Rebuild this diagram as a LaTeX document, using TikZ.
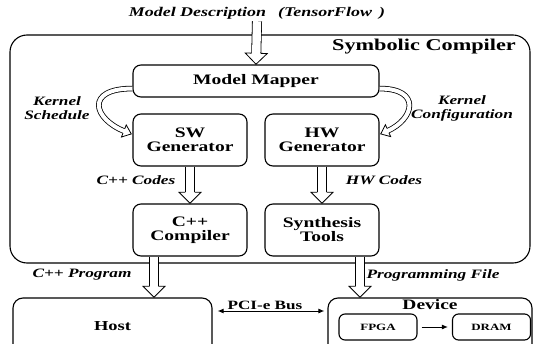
\documentclass[tikz,border=0pt]{standalone}
\usepackage{fontspec}
\setmainfont[FakeStretch=1.35]{Liberation Serif}
\usetikzlibrary{arrows.meta,decorations.markings,calc}
\newcommand\nodef{\bfseries\fontsize{14.5}{14}\selectfont}
\newcommand\labf{\bfseries\itshape\fontsize{12.8}{14}\selectfont}
\newcommand\fatarr[3]{\draw[#1] #3; \path[#2] #3;}
\tikzset{
  box/.style={draw, line width=1.1pt, rounded corners=8pt, inner sep=0pt, align=center, font=\nodef},
  gen/.style={minimum width=114pt, minimum height=52pt},
  smallbox/.style={draw, line width=1.1pt, rounded corners=6pt, inner sep=0pt, minimum width=78pt, minimum height=26pt, font=\bfseries\fontsize{9.6}{10}\selectfont},
  lab/.style={font=\labf, align=center, inner sep=2pt},
  fatshaft/.style={line width=0.8pt, double=white, double distance=8.4pt, shorten >=10.5pt},
  fathead/.style={postaction={decorate}, decoration={markings, mark=at position -0.2pt with {%
    \fill[white] (-11pt,11pt)--(0pt,0pt)--(-11pt,-11pt)--cycle;
    \draw[line width=0.8pt, line join=miter] (-11pt,4.6pt)--(-11pt,11pt)--(0pt,0pt)--(-11pt,-11pt)--(-11pt,-4.6pt);}}},
  bandshaft/.style={line width=0.8pt, double=white, double distance=4pt, shorten >=7.5pt},
  bandhead/.style={postaction={decorate}, decoration={markings, mark=at position -0.2pt with {%
    \fill[white] (-8pt,6.5pt)--(0pt,0pt)--(-8pt,-6.5pt)--cycle;
    \draw[line width=0.8pt, line join=miter] (-8pt,2.4pt)--(-8pt,6.5pt)--(0pt,0pt)--(-8pt,-6.5pt)--(-8pt,-2.4pt);}}},
  tip/.style={line width=1pt}
}
\begin{document}
\begin{tikzpicture}[x=1pt,y=-1pt]
\clip (0,0) rectangle (534,344);
\fill[white] (0,0) rectangle (534,344);
% outer compiler frame
\node[draw, line width=1.1pt, rounded corners=17pt, minimum width=520pt, minimum height=228pt] (symb) at (270,149) {};
\node[font=\bfseries\fontsize{16.5}{17}\selectfont, inner sep=0pt] (symbl) at (424,47) {Symbolic Compiler};
\node[lab, font=\bfseries\itshape\fontsize{13.3}{14}\selectfont] (title) at (257,13) {Model Description\hspace{12pt}(TensorFlow\hspace{7pt})};
% boxes
\node[box, minimum width=246pt, minimum height=32pt] (mapper) at (256,81) {Model Mapper};
\node[box, gen] (sw) at (190,140) {SW\\Generator};
\node[box, gen] (hw) at (322,140) {HW\\Generator};
\node[box, gen] (cpp) at (190,230) {C++\\Compiler};
\node[box, gen] (synth) at (322,230) {Synthesis\\Tools};
\node[box, rounded corners=10pt, minimum width=199pt, minimum height=56pt, font=\bfseries\fontsize{13.7}{14}\selectfont] (host) at (112.5,326) {Host};
\node[box, rounded corners=10pt, minimum width=204pt, minimum height=56pt] (device) at (430,326) {};
\node[font=\bfseries\fontsize{14.4}{15}\selectfont, inner sep=0pt] (devl) at (430,305) {Device};
\node[smallbox] (fpga) at (378,327) {FPGA};
\node[smallbox] (dram) at (491.5,327) {DRAM};
% labels
\node[lab] (ks) at (57,108) {Kernel\\Schedule};
\node[lab] (kc) at (462,108) {Kernel\\Configuration};
\node[lab] (cc) at (136,180) {C++ Codes};
\node[lab] (hc) at (384,180) {HW Codes};
\node[lab] (cp) at (82,275) {C++ Program};
\node[lab] (pf) at (433,275) {Programming File};
\node[font=\bfseries\fontsize{12.7}{13}\selectfont, inner sep=0pt] (pci) at (265,305) {PCI-e Bus};
% straight hollow arrows
\fatarr{fatshaft}{fathead}{(title.south) -- (mapper.north)}
\fatarr{fatshaft}{fathead}{(sw.south) -- (cpp.north)}
\fatarr{fatshaft}{fathead}{(hw.south) -- (synth.north)}
\coordinate (a1) at ([xshift=-36pt]cpp.south);
\coordinate (a2) at ([xshift=38pt]synth.south);
\fatarr{fatshaft}{fathead}{(a1) -- (a1 |- host.north)}
\fatarr{fatshaft}{fathead}{(a2) -- (a2 |- device.north)}
% curved hollow arrows
\coordinate (ls) at ([yshift=9pt]mapper.south west);
\coordinate (le) at ([shift={(-1pt,6pt)}]sw.west);
\coordinate (rs) at ([yshift=9pt]mapper.south east);
\coordinate (re) at ([shift={(1pt,6pt)}]hw.east);
\fatarr{bandshaft}{bandhead}{(ls) .. controls +(-48pt,0pt) and +(-38pt,15pt) .. (le)}
\fatarr{bandshaft}{bandhead}{(rs) .. controls +(42pt,0pt) and +(34pt,15pt) .. (re)}
% bus arrows
\draw[tip, {Latex[length=6pt,width=5pt]}-{Latex[length=6pt,width=5pt]}, shorten <=5pt, shorten >=3pt] ([yshift=15pt]host.east) -- ([yshift=15pt]device.west);
\draw[tip, -{Latex[length=6pt,width=5pt]}, shorten <=4pt, shorten >=4pt] (fpga) -- (dram);
\end{tikzpicture}
\end{document}
